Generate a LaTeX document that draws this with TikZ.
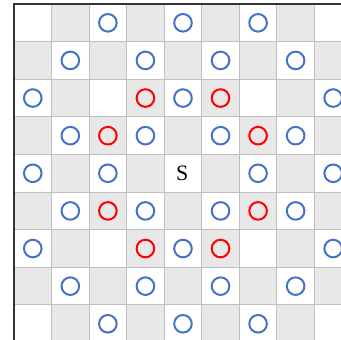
\documentclass[tikz,border=0pt]{standalone}
\usepackage{fontspec}
\setmainfont{Liberation Serif}
\definecolor{cellgray}{HTML}{E8E8E8}
\definecolor{gridgray}{HTML}{BFBFBF}
\definecolor{cblue}{HTML}{4472C4}
\definecolor{cred}{HTML}{FF0000}
\begin{document}
\begin{tikzpicture}[x=1pt,y=-1pt,
  blueo/.style={draw=cblue,line width=2pt},
  redo/.style={draw=cred,line width=2pt},
  gridline/.style={draw=gridgray,line width=1pt},
  edgeline/.style={draw=black!80,line width=1.5pt}]
\useasboundingbox (0,0) rectangle (341,340);
\clip (0,0) rectangle (341,340);
\def\cw{37.55}
\def\ch{37.62}
\foreach \r in {0,...,8}{
  \foreach \c in {0,...,8}{
    \pgfmathtruncatemacro{\myparity}{mod(\r+\c,2)}
    \ifnum\myparity=1
      \fill[cellgray] ({14+\c*\cw},{4+\r*\ch}) rectangle ++(\cw,\ch);
    \fi
  }
}
\foreach \i in {1,...,9}{
  \draw[gridline] ({14+\i*\cw},4) -- ({14+\i*\cw},345);
  \draw[gridline] (14,{4+\i*\ch}) -- (345,{4+\i*\ch});
}
\draw[edgeline] (14,345) -- (14,4) -- (345,4);
\foreach \r/\c in {0/2,0/4,0/6,1/1,1/3,1/5,1/7,2/0,2/4,2/8,3/1,3/3,3/5,3/7,4/0,4/2,4/6,4/8,5/1,5/3,5/5,5/7,6/0,6/4,6/8,7/1,7/3,7/5,7/7,8/2,8/4,8/6}{
  \draw[blueo] ({14+(\c+0.5)*\cw},{4+(\r+0.5)*\ch}) circle[radius=8.8];
}
\foreach \r/\c in {2/3,2/5,3/2,3/6,5/2,5/6,6/3,6/5}{
  \draw[redo] ({14+(\c+0.5)*\cw},{4+(\r+0.5)*\ch}) circle[radius=8.8];
}
\node[inner sep=0pt, scale=2.2] (s) at (182.3,173.5) {S};
\end{tikzpicture}
\end{document}
